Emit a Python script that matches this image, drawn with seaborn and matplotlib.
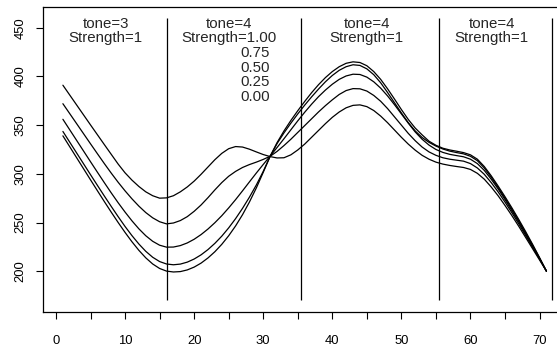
import matplotlib
matplotlib.use("Agg")
import matplotlib.pyplot as plt
import seaborn as sns
import pandas as pd

# ---- data ----
x_vals = list(range(1, 72))

s100 = [391, 380.8, 370.6, 360.4, 350.2, 340.1, 330, 320, 310, 301, 293.5, 287, 281.5, 277.5, 275, 275.3,
        277.5, 281.5, 286.5, 292.5, 299.5, 307, 314.5, 321, 325.8, 328, 327.5, 325.3, 322.5, 319.8, 317.7,
        316.3, 316.5, 319.5, 324.5, 330.5, 337.5, 344.5, 351.5, 358, 363.5, 367.8, 370.3, 370.8, 369,
        365, 359.3, 352.5, 345, 337.5, 330.5, 324.3, 319, 315, 312, 310, 308.6, 307.5, 306.5,
        304.5, 300.5, 294.5, 286.5, 277.5, 267.5, 257, 246, 234.5, 223, 211.5, 200]
s075 = [372, 361.7, 351.4, 341.1, 330.8, 320.6, 310.5, 300.7, 291.3, 282.5, 274.3, 266.8, 260.2, 254.8, 250.8, 248.6,
        249.5, 252, 256, 261.5, 268, 275.5, 283.5, 291, 297.5, 302.5, 306.5, 309.5, 312, 314.8, 318,
        323, 329, 335.5, 342.5, 349.5, 356.5, 363.5, 370, 376, 381.5, 385.5, 387.5, 387.3, 385,
        380.5, 374.5, 367, 358.5, 350, 341.5, 334, 327.5, 322.5, 319, 316.5, 315, 314, 313,
        310.5, 306, 299.5, 291, 281.5, 271, 260, 248.5, 236.5, 224.5, 212.5, 200]
s050 = [356, 345.1, 334.2, 323.3, 312.4, 301.6, 290.9, 280.4, 270.3, 260.7, 251.7, 243.5, 236.4, 230.7, 226.7, 224.7,
        224.8, 226.3, 229, 232.8, 237.6, 243.3, 249.8, 257, 265, 273.5, 282.5, 291.7, 300.8, 309.6, 318.2,
        327, 336, 345.2, 354.4, 363.2, 371.5, 379.2, 386, 392, 397, 400.5, 402.3, 402, 399.3,
        394.5, 388, 380, 371, 361.5, 352, 343, 335.5, 329.5, 325, 322, 320, 318.7, 317.5,
        315, 310.5, 303.5, 294.5, 284.5, 273.5, 262, 250.5, 238, 225.5, 213, 200]
s025 = [343.5, 332.4, 321.3, 310.2, 299.1, 288.1, 277.2, 266.5, 256, 245.9, 236.5, 227.9, 220.4, 214.3, 209.9, 207.4,
        206.6, 207.3, 209.3, 212.5, 216.8, 222.2, 228.6, 236, 244.5, 254, 264.5, 276, 288.5, 302.5, 318,
        331, 342, 352, 361.5, 370.5, 379, 387, 394.5, 401, 406.3, 410, 412, 411.3, 407.8,
        401.8, 393.5, 383.5, 373, 362.5, 352.5, 344, 337.3, 332.3, 328.5, 325.5, 323.3, 321.8, 320.5,
        318, 313.5, 306, 296.5, 286, 275, 263.5, 251.5, 239, 226.5, 213.5, 200]
s000 = [339, 327.7, 316.4, 305.1, 293.8, 282.6, 271.5, 260.6, 250, 239.8, 230.2, 221.4, 213.7, 207.4, 202.8, 200.1,
        199.2, 199.6, 201.3, 204.2, 208.3, 213.6, 220, 227.6, 236.4, 246.5, 258, 271, 285.5, 301.5, 318,
        332, 344, 354.8, 364.8, 374.3, 383.3, 391.5, 398.8, 405, 410, 413.5, 415, 414.3, 411,
        405, 397, 387.3, 376.8, 366, 355.8, 347, 340, 333.5, 329.3, 326.3, 324.5, 323.2, 321.8,
        319.5, 315, 307.5, 298, 287.5, 276.5, 265, 253, 240.5, 227.5, 214, 200]

strength_names = ["1.00", "0.75", "0.50", "0.25", "0.00"]
boundaries = [16, 35.5, 55.5, 71.8]

seg_label_x = [7.2, 25.0, 45.0, 63.1]
tone_labels = ["tone=3", "tone=4", "tone=4", "tone=4"]
strength_labels = ["Strength=1", "Strength=1.00", "Strength=1", "Strength=1"]
extra_levels = ["0.75", "0.50", "0.25", "0.00"]

x_ticks = [0, 5, 10, 15, 20, 25, 30, 35, 40, 45, 50, 55, 60, 65, 70]
x_ticklabels = ["0", "", "10", "", "20", "", "30", "", "40", "", "50", "", "60", "", "70"]
y_ticks = [200, 250, 300, 350, 400, 450]

# ---- build long table ----
series = [s100, s075, s050, s025, s000]
rows = []
for name, ys in zip(strength_names, series):
    for xv, yv in zip(x_vals, ys):
        rows.append({"x": xv, "y": yv, "strength": name})
df = pd.DataFrame(rows)

sns.set_style("ticks")
plt.rcParams["font.family"] = ["Liberation Sans", "DejaVu Sans"]

fig = plt.figure(figsize=(5.57, 3.5), dpi=100)
ax = fig.add_axes([0.0777, 0.1094, 0.951, 0.8714])

sns.lineplot(data=df, x="x", y="y", units="strength", estimator=None,
             color="black", linewidth=0.9, ax=ax, legend=False)

ax.vlines(boundaries, 170, 460, color="black", linewidth=0.9)

ax.set_xlim(-1.84, 74.84)
ax.set_ylim(158.4, 471.6)

for xp, t, s in zip(seg_label_x, tone_labels, strength_labels):
    ax.text(xp, 453.4, t, ha="center", va="center", fontsize=10.8)
    ax.text(xp, 439.7, s, ha="center", va="center", fontsize=10.8)
for i, lab in enumerate(extra_levels):
    ax.text(28.8, 424.3 - i * 15.2, lab, ha="center", va="center", fontsize=10.8)

ax.set_xticks(x_ticks)
ax.set_xticklabels(x_ticklabels)
ax.set_yticks(y_ticks)
ax.set_yticklabels([str(v) for v in y_ticks], rotation=90, va="center")
ax.tick_params(axis="both", direction="out", length=5, width=0.8, colors="black",
               labelsize=9.4)
ax.tick_params(axis="x", pad=11.5)
ax.tick_params(axis="y", pad=7)
ax.set_xlabel("")
ax.set_ylabel("")
for sp in ax.spines.values():
    sp.set_visible(True)
    sp.set_color("black")
    sp.set_linewidth(0.9)

fig.savefig("out.png", dpi=100)
